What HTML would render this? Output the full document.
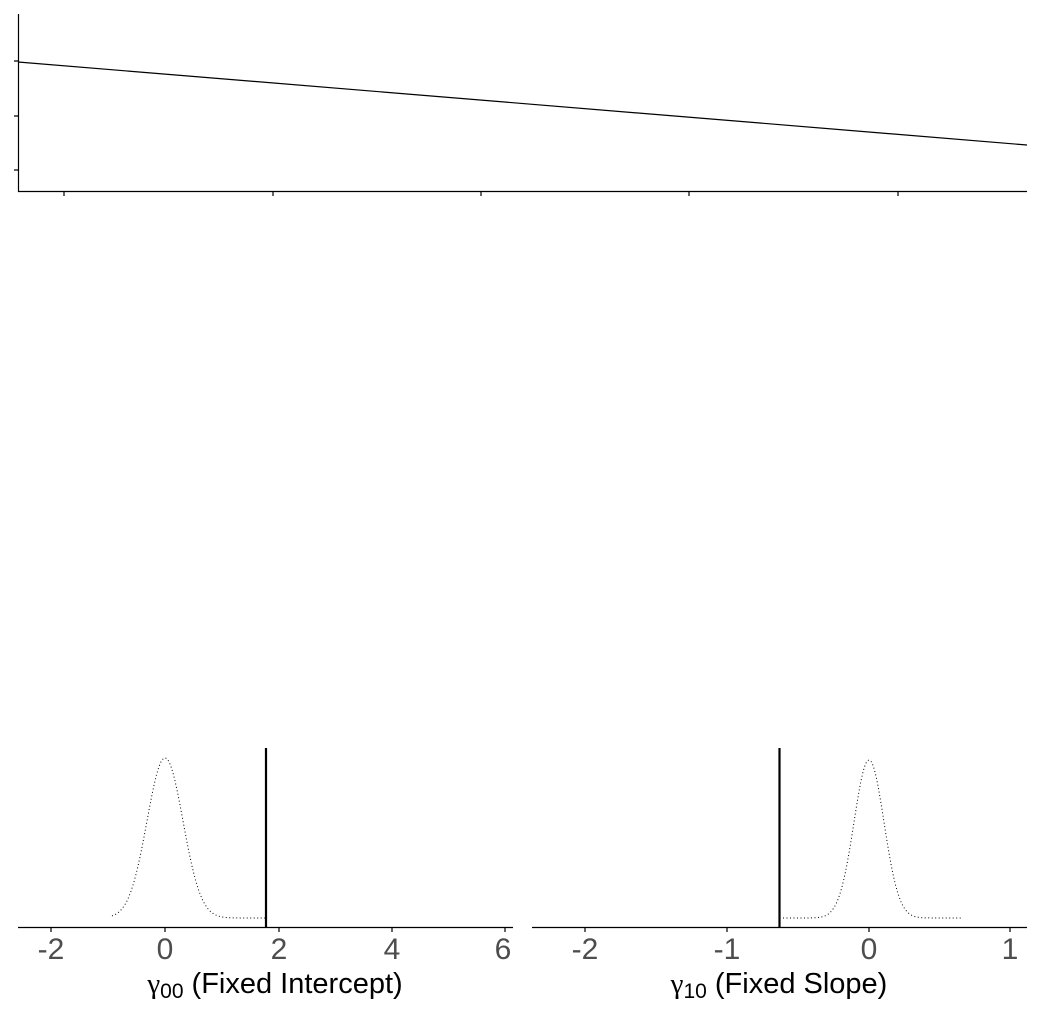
<!DOCTYPE html>
<html><head><meta charset="utf-8"><style>
html,body{margin:0;padding:0;background:#fff;width:1043px;height:1019px;overflow:hidden}
text{font-family:"Liberation Sans",sans-serif}
</style></head><body>
<svg id="s" width="1043" height="1019" viewBox="0 0 1043 1019" xmlns="http://www.w3.org/2000/svg">
<g stroke="#000" fill="none" stroke-width="1.2">
<path d="M18.5,14V191.5H1027"/>
<path d="M14,61H18.5M14,116H18.5M14,170H18.5"/>
<path d="M64,191.5V196M273,191.5V196M481,191.5V196M689,191.5V196M898,191.5V196"/>
<path d="M18,62L1027,145"/>
<path d="M18,927.5H513M51,927.5V932M165,927.5V932M279,927.5V932M392,927.5V932M505,927.5V932"/>
<path d="M532,927.5H1027M585,927.5V932M727,927.5V932M869,927.5V932M1010,927.5V932"/>
</g>
<line x1="266" y1="748" x2="266" y2="927" stroke="#000" stroke-width="2.2"/>
<line x1="779.5" y1="748" x2="779.5" y2="927" stroke="#000" stroke-width="2.2"/>
<path id="d1" fill="none" stroke="#000" stroke-width="1" stroke-dasharray="1,2.5"/>
<path id="d2" fill="none" stroke="#000" stroke-width="1" stroke-dasharray="1,2.5"/>
<g font-size="30" fill="#4d4d4d" text-anchor="middle">
<text x="51" y="959">-2</text><text x="165" y="959">0</text><text x="279" y="959">2</text><text x="392" y="959">4</text><text x="503" y="959">6</text>
<text x="585" y="959">-2</text><text x="727" y="959">-1</text><text x="869" y="959">0</text><text x="1010" y="959">1</text>
</g>
<g font-size="29" fill="#000" text-anchor="middle">
<text x="275" y="993"><tspan font-family="Liberation Serif,serif">γ</tspan><tspan font-size="21" dy="5">00</tspan><tspan dy="-5"> (Fixed Intercept)</tspan></text>
<text x="779" y="993"><tspan font-family="Liberation Serif,serif">γ</tspan><tspan font-size="21" dy="5">10</tspan><tspan dy="-5"> (Fixed Slope)</tspan></text>
</g>
</svg>
<script>
function mk(id,x0,x1,mu,sd,top,base){let p='';for(let x=x0;x<=x1;x+=1){let z=(x-mu)/sd;let y=base-(base-top)*Math.exp(-z*z/2);p+=(p?'L':'M')+x+','+y.toFixed(1);}document.getElementById(id).setAttribute('d',p);}
mk('d1',112,266,165,18,758,918);
mk('d2',783,963,869,15,760,918);
</script>
</body></html>
